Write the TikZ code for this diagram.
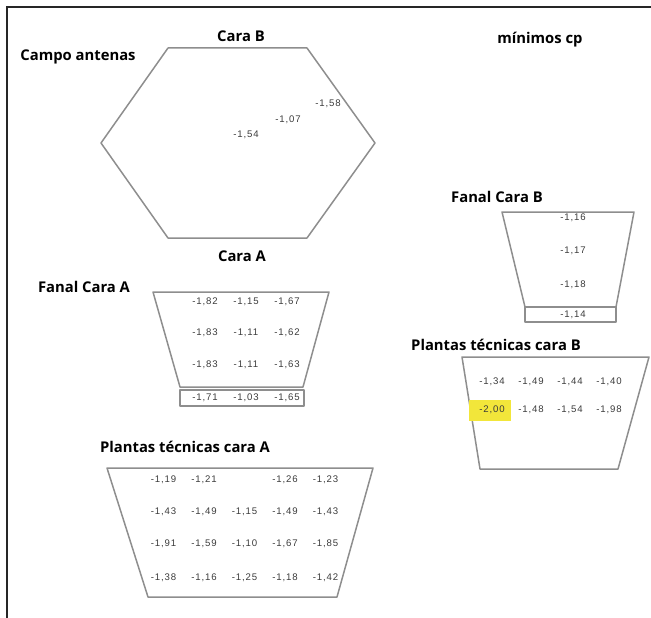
\documentclass[tikz,border=0pt]{standalone}
\usepackage{fontspec}
\newfontfamily\titlefont{Open Sans}
\newfontfamily\numfont[LetterSpace=9]{Liberation Sans}
\usepackage{xcolor}
\definecolor{cShape}{HTML}{8E8E8E}
\definecolor{cNum}{HTML}{3A3A3A}
\definecolor{cMin}{HTML}{F2E63A}
\usepackage{tikz}
\tikzset{
  plan-line/.style={draw=cShape,line width=1.5pt,line join=round},
  frame-line/.style={draw=black!85,line width=1.1pt},
  title-label/.style={font=\titlefont\bfseries\fontsize{14.8}{16}\selectfont,inner sep=0pt},
  cp-value/.style={font=\numfont\fontsize{9.6}{10}\selectfont,text=cNum,inner sep=0pt},
  cp-min/.style={fill=cMin,draw=none},
}

\begin{document}
\begin{tikzpicture}[x=1pt,y=-1pt]
  \useasboundingbox (0,0) rectangle (651,618);
  \draw[frame-line] (7,618) -- (7,7) -- (651,7);

  % campo antenas
  \draw[plan-line] (101,143) -- (168,48) -- (307,48) -- (375,143) -- (307,238) -- (168,238) -- cycle;
  \node[title-label] (caraB) at (241,36) {Cara B};
  \node[title-label] (campo) at (78,57) {Campo antenas};
  \node[title-label] (caraA) at (242,256) {Cara A};
  \node[title-label] (minimos) at (540,40) {mínimos cp};
  \node[cp-value] (ant-1) at (246,135) {-1,54};
  \node[cp-value] (ant-2) at (288,120) {-1,07};
  \node[cp-value] (ant-3) at (328,104) {-1,58};

  % fanal cara A
  \node[title-label] (fanalA) at (84,287) {Fanal Cara A};
  \draw[plan-line] (153,292) -- (329,292) -- (303,387) -- (180,387) -- cycle;
  \draw[plan-line] (180,390) rectangle (304,406);
  \foreach \v [count=\c] in {{-1,82},{-1,15},{-1,67}}
    \node[cp-value] (fa1-\c) at ({164+41*\c},302) {\v};
  \foreach \v [count=\c] in {{-1,83},{-1,11},{-1,62}}
    \node[cp-value] (fa2-\c) at ({164+41*\c},333) {\v};
  \foreach \v [count=\c] in {{-1,83},{-1,11},{-1,63}}
    \node[cp-value] (fa3-\c) at ({164+41*\c},365) {\v};
  \foreach \v [count=\c] in {{-1,71},{-1,03},{-1,65}}
    \node[cp-value] (fa4-\c) at ({164+41*\c},398) {\v};

  % plantas tecnicas cara A
  \node[title-label] (plantasA) at (185,447) {Plantas técnicas cara A};
  \draw[plan-line] (107,468) -- (373,468) -- (337,597) -- (148,597) -- cycle;
  \foreach \c/\v in {1/{-1,19},2/{-1,21},4/{-1,26},5/{-1,23}}
    \node[cp-value] (pa1-\c) at ({123+40.5*\c},480) {\v};
  \foreach \v [count=\c] in {{-1,43},{-1,49},{-1,15},{-1,49},{-1,43}}
    \node[cp-value] (pa2-\c) at ({123+40.5*\c},512) {\v};
  \foreach \v [count=\c] in {{-1,91},{-1,59},{-1,10},{-1,67},{-1,85}}
    \node[cp-value] (pa3-\c) at ({123+40.5*\c},544) {\v};
  \foreach \v [count=\c] in {{-1,38},{-1,16},{-1,25},{-1,18},{-1,42}}
    \node[cp-value] (pa4-\c) at ({123+40.5*\c},578) {\v};

  % fanal cara B
  \node[title-label] (fanalB) at (497,197) {Fanal Cara B};
  \draw[plan-line] (502,212) -- (634,212) -- (616,307) -- (525,307) -- cycle;
  \draw[plan-line] (525,307) rectangle (616,322);
  \foreach \v/\y [count=\r] in {{-1,16}/218,{-1,17}/251,{-1,18}/285,{-1,14}/315}
    \node[cp-value] (fb-\r) at (573,\y) {\v};

  % plantas tecnicas cara B
  \node[title-label] (plantasB) at (496,345) {Plantas técnicas cara B};
  \draw[plan-line] (462,357) -- (649,357) -- (618,469) -- (480,469) -- cycle;
  \fill[cp-min] (469,400) rectangle (511,421);
  \foreach \v [count=\c] in {{-1,34},{-1,49},{-1,44},{-1,40}}
    \node[cp-value] (pb1-\c) at ({453+39*\c},382) {\v};
  \foreach \v [count=\c] in {{-2,00},{-1,48},{-1,54},{-1,98}}
    \node[cp-value] (pb2-\c) at ({453+39*\c},410) {\v};
\end{tikzpicture}
\end{document}
